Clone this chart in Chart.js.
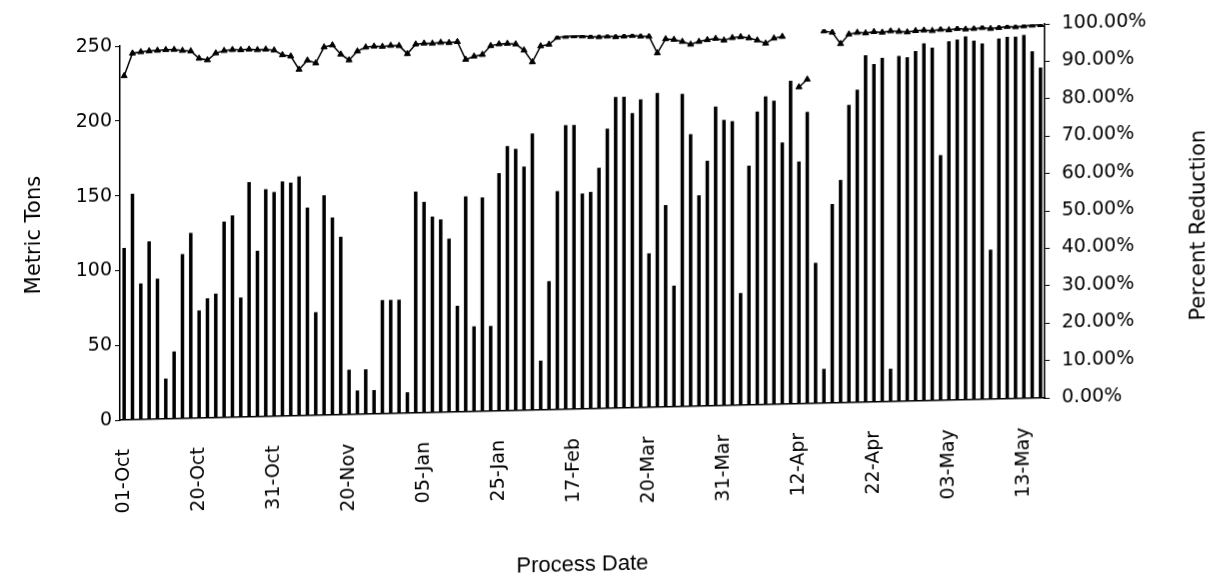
<!DOCTYPE html>
<html><head><meta charset="utf-8">
<script src="https://cdn.jsdelivr.net/npm/chart.js@4.4.1/dist/chart.umd.min.js"></script>
<style>
html,body{margin:0;padding:0;background:#fff;overflow:hidden}
#wrap{width:1222px;height:583px;transform:skewY(-1.37deg);transform-origin:583px 0}
canvas{display:block}
</style></head><body>
<div id="wrap"><canvas id="c" width="1222" height="583"></canvas></div>
<script>
const tickLabels = ['01-Oct','20-Oct','31-Oct','20-Nov','05-Jan','25-Jan','17-Feb','20-Mar','31-Mar','12-Apr','22-Apr','03-May','13-May'];
const labelEvery = 9;
const metricTons = [
 115,151,91,119,94,27,45,110,124,72,
 80,83,131,135,80,157,111,152,150,157,
 156,160,139,69,147,132,119,30,16,30,
 16,76,76,76,14,148,141,131,129,116,
 71,144,57,143,57,159,177,175,163,185,
 33,86,146,190,190,144,145,161,187,208,
 208,197,206,103,210,135,81,209,182,141,
 164,200,191,190,75,160,196,206,203,175,
 216,162,195,94,23,133,149,199,209,232,
 226,230,22,231,230,234,239,236,164,240,
 241,243,240,238,100,241,242,242,243,232,
 221
];
const percentReduction = [
 92.0,98.0,98.3,98.5,98.6,98.7,98.7,98.4,98.2,96.2,
 95.7,97.5,98.1,98.3,98.2,98.3,98.1,98.2,97.9,96.6,
 96.2,92.6,95.0,94.2,98.4,98.9,96.4,94.8,97.1,98.1,
 98.3,98.2,98.4,98.3,96.1,98.6,98.8,98.7,98.9,98.8,
 99.0,94.2,95.0,95.4,97.7,98.1,98.2,98.0,96.3,93.1,
 97.3,97.7,99.5,99.7,99.8,99.7,99.5,99.4,99.5,99.3,
 99.4,99.5,99.3,99.2,94.7,98.4,98.2,97.6,96.8,97.5,
 97.9,98.2,97.7,98.3,98.5,98.1,97.5,96.6,97.9,98.3,
 null,84.7,86.7,null,99.5,99.1,96.0,98.5,98.9,98.7,
 99.0,98.8,99.1,98.9,98.7,99.0,99.1,98.9,99.2,99.0,
 99.3,99.1,99.2,99.4,99.1,99.3,99.5,99.4,99.6,99.7,
 99.8
];
const leftTicks = [0,50,100,150,200,250];
const rightTicks = [0,10,20,30,40,50,60,70,80,90,100];

const categories = metricTons.map((_, i) => (i % labelEvery === 0 && tickLabels[i / labelEvery]) ? tickLabels[i / labelEvery] : '');

Chart.defaults.font.family = "'DejaVu Sans', sans-serif";
Chart.defaults.color = '#000';

const rightTitle = {
  id: 'rightTitle',
  afterDraw(chart) {
    const s = chart.scales.y1, a = chart.chartArea, ctx = chart.ctx;
    ctx.save();
    ctx.translate(s.right - 22, (a.top + a.bottom) / 2 + 18);
    ctx.rotate(-Math.PI / 2);
    ctx.font = "21px 'DejaVu Sans', sans-serif";
    ctx.fillStyle = '#000';
    ctx.textAlign = 'center';
    ctx.textBaseline = 'middle';
    ctx.fillText('Percent Reduction', 0, 0);
    ctx.restore();
  }
};

new Chart(document.getElementById('c'), {
  data: {
    labels: categories,
    datasets: [
      {
        type: 'line',
        label: 'Percent Reduction',
        data: percentReduction,
        yAxisID: 'y1',
        borderColor: '#000',
        borderWidth: 1.5,
        backgroundColor: '#000',
        pointStyle: 'triangle',
        pointRadius: 3.5,
        pointBorderWidth: 1,
        pointBackgroundColor: '#000',
        pointBorderColor: '#000',
        tension: 0,
        spanGaps: false,
        order: 0
      },
      {
        type: 'bar',
        label: 'Metric Tons',
        data: metricTons,
        yAxisID: 'y',
        backgroundColor: '#000',
        borderWidth: 0,
        categoryPercentage: 1,
        barPercentage: 0.42,
        order: 1
      }
    ]
  },
  options: {
    responsive: false,
    animation: false,
    devicePixelRatio: 1,
    layout: { padding: { top: 35, left: 0, right: 0, bottom: 0 } },
    plugins: { legend: { display: false }, tooltip: { enabled: false } },
    scales: {
      x: {
        type: 'category',
        offset: true,
        grid: { display: false, drawTicks: false },
        border: { display: true, color: '#000', width: 1.5 },
        ticks: { autoSkip: false, maxRotation: 90, minRotation: 90, padding: 29, font: { size: 19 } },
        title: { display: true, text: 'Process Date', font: { family: "'Liberation Sans', sans-serif", size: 22 }, padding: { top: 0, bottom: 5 } },
        afterFit: s => { s.height = 174; }
      },
      y: {
        position: 'left',
        min: 0, max: 250,
        afterBuildTicks: s => { s.ticks = leftTicks.map(v => ({ value: v })); },
        grid: { display: true, drawOnChartArea: false, drawTicks: true, tickLength: 5, color: '#000' },
        border: { display: true, color: '#000', width: 1.5 },
        ticks: { padding: 3, font: { size: 19 } },
        title: { display: true, text: 'Metric Tons', font: { size: 21 }, padding: { top: 22, bottom: 0 } },
        afterFit: s => { s.width = 120; }
      },
      y1: {
        position: 'right',
        min: 0, max: 100,
        afterBuildTicks: s => { s.ticks = rightTicks.map(v => ({ value: v })); },
        grid: { display: true, drawOnChartArea: false, drawTicks: true, tickLength: 5, color: '#000' },
        border: { display: true, color: '#000', width: 1.5 },
        ticks: { padding: 12, font: { size: 19 }, callback: v => v.toFixed(2) + '%' },
        title: { display: false },
        afterFit: s => { s.width = 177; }
      }
    }
  },
  plugins: [rightTitle]
});
</script>
</body></html>
